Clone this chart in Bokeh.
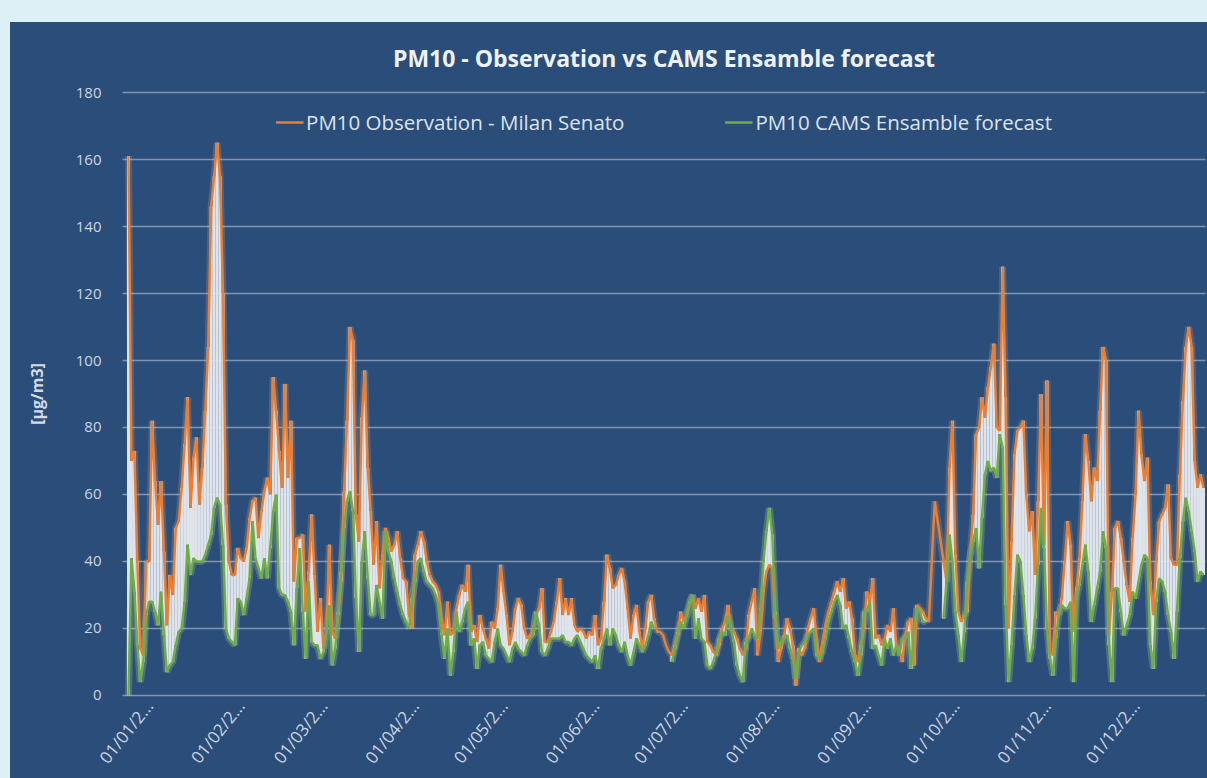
import math
from bokeh.plotting import figure
from bokeh.models import Range1d, FixedTicker, Legend, LegendItem, ColumnDataSource, Div
from bokeh.layouts import column, row
from bokeh.embed import file_html
from bokeh.resources import INLINE

nan = float("nan")

# Daily PM10 observation (Milan Senato), day 0 = 01/01
observed = [
    161, 70, 73, 40, 14, 12, 40, 40, 82, 64,
    51, 64, 43, 21, 36, 30, 50, 52, 62, 75,
    89, 56, 71, 77, 57, 68, 85, 104, 146, 155,
    165, 155, 120, 57, 40, 36, 36, 44, 41, 40,
    44, 53, 58, 59, 47, 55, 61, 65, 60, 95,
    85, 73, 62, 93, 65, 82, 34, 47, 47, 48,
    25, 37, 54, 36, 19, 29, 14, 19, 45, 19,
    17, 24, 34, 61, 82, 110, 106, 54, 46, 83,
    97, 68, 55, 39, 52, 32, 42, 50, 47, 43,
    45, 49, 41, 35, 34, 24, 20, 42, 45, 49,
    46, 40, 36, 34, 33, 31, 23, 18, 28, 18,
    19, 26, 30, 33, 31, 39, 19, 21, 16, 24,
    20, 17, 14, 22, 20, 26, 39, 31, 24, 15,
    19, 26, 29, 27, 20, 17, 18, 20, 24, 26,
    32, 16, 16, 19, 22, 28, 35, 24, 29, 24,
    29, 21, 19, 20, 19, 17, 19, 18, 24, 15,
    17, 28, 42, 38, 32, 33, 36, 38, 34, 26,
    17, 24, 27, 19, 14, 20, 28, 30, 23, 19,
    19, 18, 15, 13, 12, 15, 19, 25, 22, 24,
    27, 30, 26, 29, 25, 30, 16, 15, 13, 12,
    15, 20, 22, 27, 20, 19, 17, 14, 12, 14,
    24, 28, 32, 12, 19, 31, 37, 39, 38, 23,
    10, 14, 18, 23, 20, 15, 3, 14, 12, 14,
    20, 23, 26, 17, 10, 16, 21, 25, 28, 31,
    34, 31, 35, 26, 28, 23, 12, 10, 15, 20,
    31, 28, 35, 17, 18, 15, 17, 21, 19, 26,
    15, 14, 10, 18, 22, 23, 9, 27, 26, 25,
    23, 22, 40, 58, 52, 46, 40, 34, 68, 82,
    42, 25, 22, 24, 25, 42, 54, 78, 80, 89,
    83, 92, 98, 105, 80, 79, 128, 89, 20, 46,
    72, 79, 80, 82, 60, 49, 55, 36, 58, 90,
    45, 94, 13, 12, 25, 24, 29, 40, 52, 45,
    19, 32, 41, 58, 78, 70, 58, 68, 64, 85,
    104, 100, 18, 31, 50, 52, 47, 40, 33, 28,
    47, 60, 85, 72, 64, 71, 34, 24, 40, 52,
    54, 56, 63, 41, 39, 39, 66, 88, 104, 110,
    104, 70, 62, 66, 62,
]

# Daily PM10 CAMS Ensemble forecast (nan = no forecast)
forecast = [
    0, 41, 31, 15, 4, 10, 24, 28, 28, 25,
    21, 31, 18, 7, 9, 10, 15, 19, 20, 28,
    45, 36, 41, 40, 40, 40, 42, 45, 48, 56,
    59, 57, 45, 20, 17, 16, 15, 29, 28, 24,
    29, 35, 52, 41, 38, 35, 41, 35, 44, 55,
    60, 32, 30, 30, 28, 25, 15, 32, 44, 25,
    11, 34, 16, 15, 15, 11, 13, 19, 27, 9,
    14, 25, 37, 50, 58, 61, 55, 29, 13, 40,
    49, 35, 24, 24, 33, 28, 23, 49, 43, 40,
    35, 31, 27, 24, 22, 20, 29, 34, 40, 41,
    37, 34, 33, 32, 30, 27, 18, 11, 20, 6,
    13, 25, 19, 22, 26, 28, 15, 17, 8, 15,
    16, 12, 11, 10, 16, 20, 15, 14, 12, 10,
    14, 16, 14, 13, 12, 15, 17, 18, 25, 21,
    13, 12, 14, 17, 17, 17, 17, 18, 16, 16,
    15, 17, 18, 16, 14, 12, 11, 10, 12, 8,
    14, 17, 20, 15, 20, 18, 15, 13, 16, 12,
    9, 13, 17, 15, 13, 15, 18, 22, 20, nan,
    nan, nan, nan, nan, 10, 14, 18, 22, 20, 24,
    28, 30, 17, 23, 17, 16, 9, 8, 10, 13,
    17, 19, 18, 24, 20, 16, 9, 6, 4, 16,
    17, 20, 18, 17, 26, 40, 49, 56, 48, 25,
    14, 16, 17, 18, 14, 11, 5, 13, 15, 16,
    18, 19, 20, 12, 11, 13, 17, 22, 25, 28,
    30, 27, 20, 21, 17, 13, 10, 6, 12, 25,
    25, 28, 14, 15, 12, 9, 17, 14, 17, 12,
    15, 12, 17, 17, 19, 8, 20, 26, 25, 22,
    22, nan, nan, nan, nan, nan, 23, 34, 48, 40,
    25, 18, 10, 19, 34, 42, 46, 50, 38, 53,
    66, 70, 67, 68, 65, 78, 74, 27, 4, 15,
    30, 42, 40, 30, 18, 10, 14, 23, 39, 56,
    44, 20, 11, 6, 17, 24, 27, 26, 26, 28,
    4, 29, 33, 39, 45, 37, 22, 27, 32, 37,
    49, 44, 15, 4, 32, 32, 25, 18, 21, 24,
    31, 29, 34, 39, 42, 41, 15, 8, 28, 35,
    34, 31, 24, 19, 11, 25, 41, 52, 59, 55,
    49, 43, 34, 37, 36,
]

month_start_days = [0, 31, 59, 90, 120, 151, 181, 212, 243, 273, 304, 334]
month_labels = ["01/01/2...", "01/02/2...", "01/03/2...", "01/04/2...", "01/05/2...",
                "01/06/2...", "01/07/2...", "01/08/2...", "01/09/2...", "01/10/2...",
                "01/11/2...", "01/12/2..."]
y_ticks = [0, 20, 40, 60, 80, 100, 120, 140, 160, 180]

days = list(range(len(observed)))

BG = "#2a4d7a"
PAGE = "#dcf0f6"
FONT = "Open Sans"
LIGHT = "#cdd5e0"

p = figure(width=1197, height=756, output_backend="svg", toolbar_location=None, tools="",
           x_range=Range1d(-2.03, 364.68), y_range=Range1d(-0.6, 180.6),
           min_border_left=112, min_border_right=2, min_border_top=68, min_border_bottom=81,
           background_fill_color=None, border_fill_color=None, outline_line_color=None,
           styles={"background-color": BG})

# soft glow underlay
p.line(days, observed, line_color="#f3e0a8", line_width=7, line_alpha=0.16)
p.line(days, forecast, line_color="#e2f3a8", line_width=7, line_alpha=0.2)

# high-low lines between the two series
hx, hlo, hhi = [], [], []
for d, o, f in zip(days, observed, forecast):
    if not math.isnan(f):
        hx.append(d)
        hlo.append(min(o, f))
        hhi.append(max(o, f))
hl_src = ColumnDataSource(dict(x=hx, y0=hlo, y1=hhi))
p.segment(x0="x", y0="y0", x1="x", y1="y1", source=hl_src,
          line_color="#dfe4eb", line_width=3)

r_obs = p.line(days, observed, line_color="#ed7d31", line_width=2.5)
r_fc = p.line(days, forecast, line_color="#70ad47", line_width=2.5)

legend = Legend(items=[LegendItem(label="PM10 Observation - Milan Senato", renderers=[r_obs]),
                       LegendItem(label="PM10 CAMS Ensamble forecast", renderers=[r_fc])],
                orientation="horizontal", location="top_center",
                background_fill_alpha=0, border_line_alpha=0,
                label_text_color="#dde3eb", label_text_font=FONT, label_text_font_size="20.5px",
                spacing=100, glyph_width=28, label_standoff=3, margin=8, padding=10)
p.add_layout(legend)

p.title.text = "PM10 - Observation vs CAMS Ensamble forecast"
p.title.align = "center"
p.title.text_font = FONT
p.title.text_font_size = "23px"
p.title.text_font_style = "bold"
p.title.text_color = "#eef2f7"
p.title.standoff = 33

p.xgrid.grid_line_color = None
p.ygrid.grid_line_color = "#d4dcea"
p.ygrid.grid_line_dash = "1 1"
p.ygrid.grid_line_width = 1.3
p.ygrid.grid_line_alpha = 1.0
p.ygrid.ticker = FixedTicker(ticks=y_ticks)

p.yaxis.ticker = FixedTicker(ticks=y_ticks)
p.yaxis.axis_label = "[µg/m3]"
p.yaxis.axis_label_text_font = FONT
p.yaxis.axis_label_text_font_size = "16px"
p.yaxis.axis_label_text_font_style = "bold"
p.yaxis.axis_label_text_color = "#d5dbe4"
p.yaxis.axis_label_standoff = 25

label_ticks = [d + 7 for d in month_start_days]
p.xaxis.ticker = FixedTicker(ticks=label_ticks)
p.xaxis.major_label_overrides = {t: lbl for t, lbl in zip(label_ticks, month_labels)}
p.xaxis.major_label_orientation = 0.9

for ax in (p.xaxis, p.yaxis):
    ax.axis_line_color = None
    ax.major_tick_line_color = None
    ax.minor_tick_line_color = None
    ax.major_tick_out = 0
    ax.major_tick_in = 0
    ax.minor_tick_out = 0
    ax.major_label_text_font = FONT
    ax.major_label_text_color = LIGHT
p.yaxis.major_label_text_font_size = "15px"
p.xaxis.major_label_text_font_size = "17px"
p.yaxis.major_label_standoff = 21
p.xaxis.major_label_standoff = 5

top_band = Div(width=1207, height=22, margin=0, styles={"background-color": PAGE})
left_band = Div(width=10, height=756, margin=0, styles={"background-color": PAGE})
layout = column(top_band, row(left_band, p, spacing=0), spacing=0)

open("out.html", "w").write(file_html(layout, INLINE))
